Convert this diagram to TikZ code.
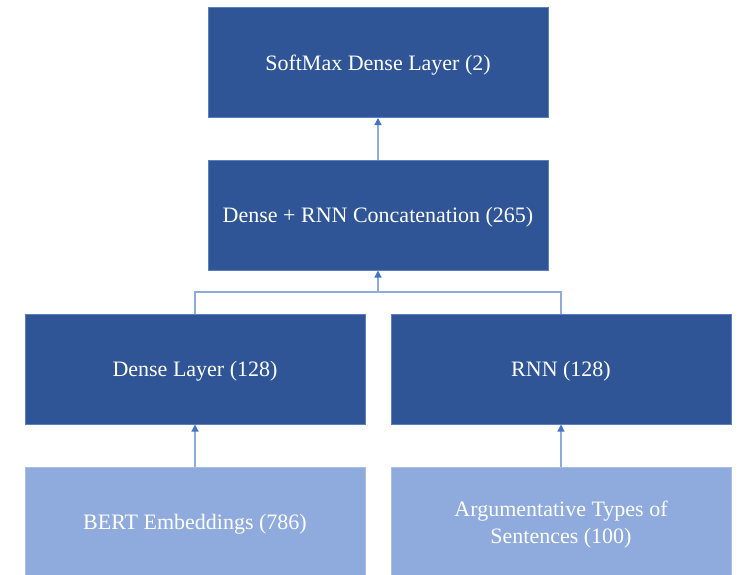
\documentclass[tikz,border=0pt]{standalone}
\usepackage{fontspec}
\setmainfont{Liberation Serif}
\usetikzlibrary{arrows.meta}
\definecolor{darkbox}{HTML}{2F5597}
\definecolor{darkedge}{HTML}{5B7FC0}
\definecolor{lightbox}{HTML}{8FAADC}
\definecolor{lightedge}{HTML}{A9BEE4}
\definecolor{conn}{HTML}{8FAADC}
\definecolor{tipcol}{HTML}{4472C4}
\begin{document}
\begin{tikzpicture}[x=1pt,y=-1pt,
  layerbox/.style={draw=darkedge, line width=1pt, fill=darkbox, text=white, minimum width=340pt, minimum height=110pt, inner sep=0pt, font=\fontsize{22}{27}\selectfont, align=center, text depth=0pt},
  inputbox/.style={draw=lightedge, line width=1pt, fill=lightbox, text=white, minimum width=340pt, minimum height=110pt, inner sep=0pt, font=\fontsize{22}{27}\selectfont, align=center, text depth=0pt},
  link/.style={draw=conn, line width=1.2pt},
  arrowlink/.style={link, -{Triangle[length=7pt,width=7pt,fill=tipcol,color=tipcol]}}]
\useasboundingbox (0,0) rectangle (739,574);
\node[layerbox] (soft) at (378,62.5) {SoftMax Dense Layer (2)};
\node[layerbox] (concat) at (378,215) {Dense + RNN Concatenation (265)};
\node[layerbox] (dense) at (195,369) {Dense Layer (128)};
\node[layerbox] (rnn) at (561,369) {RNN (128)};
\node[inputbox] (bert) at (195,522) {BERT Embeddings (786)};
\node[inputbox] (arg) at (561,522) {Argumentative Types of\\Sentences (100)};
\coordinate (join) at (378,292);
\draw[arrowlink] (concat.north) -- (soft.south);
\draw[arrowlink] (bert.north) -- (dense.south);
\draw[arrowlink] (arg.north) -- (rnn.south);
\draw[link] (dense.north) |- (join) -| (rnn.north);
\draw[arrowlink] (join) -- (concat.south);
\end{tikzpicture}
\end{document}
